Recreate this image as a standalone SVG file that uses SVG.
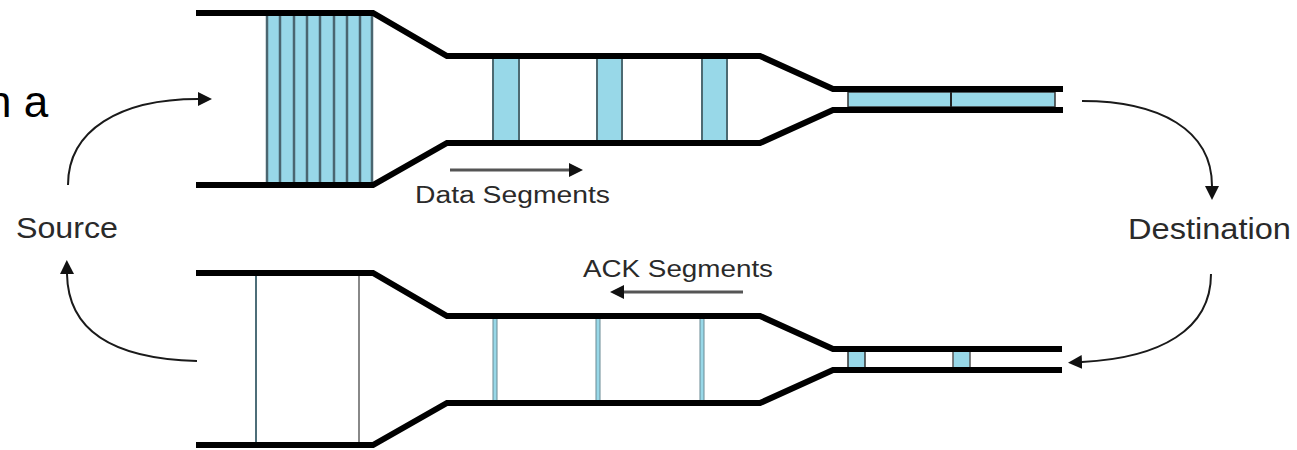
<svg xmlns="http://www.w3.org/2000/svg" width="1297" height="450" viewBox="0 0 1297 450">
<defs>
<style>
.pipe{fill:none;stroke:#000;stroke-width:6;stroke-linejoin:miter}
.seg{fill:#98d8e8;stroke:#4d6a72;stroke-width:2}
.div{stroke:#4a6670;stroke-width:2.5}
.lbl{font-family:"Liberation Sans",Arial,sans-serif;fill:#2a2a2a}
.curve{fill:none;stroke:#1a1a1a;stroke-width:2;marker-end:url(#ah)}
.flow{fill:none;stroke:#555;stroke-width:3;marker-end:url(#ah)}
</style>
<marker id="ah" markerUnits="userSpaceOnUse" markerWidth="16" markerHeight="16" viewBox="0 -8 16 16" refX="0" refY="0" orient="auto">
<path d="M0,-7 L14,0 L0,7 Z" fill="#111"/>
</marker>
</defs>
<rect width="1297" height="450" fill="#fff"/>
<text x="-13" y="117" font-family="Liberation Sans, Arial, sans-serif" font-size="44" fill="#000">n a</text>

<g id="data-pipe">
<rect x="267" y="16" width="105" height="166" fill="#98d8e8"/>
<g class="div">
<line x1="267" y1="15" x2="267" y2="183"/><line x1="280" y1="15" x2="280" y2="183"/>
<line x1="294" y1="15" x2="294" y2="183"/><line x1="307" y1="15" x2="307" y2="183"/>
<line x1="320" y1="15" x2="320" y2="183"/><line x1="334" y1="15" x2="334" y2="183"/>
<line x1="347" y1="15" x2="347" y2="183"/><line x1="360" y1="15" x2="360" y2="183"/>
<line x1="372" y1="15" x2="372" y2="183"/>
</g>
<rect class="seg" x="493" y="57" width="26" height="85"/>
<rect class="seg" x="597" y="57" width="25" height="85"/>
<rect class="seg" x="702" y="57" width="25" height="85"/>
<rect x="848" y="92" width="207" height="15" fill="#98d8e8" stroke="#333" stroke-width="1.5"/>
<line x1="951" y1="92" x2="951" y2="107" stroke="#222" stroke-width="2"/>
<path class="pipe" d="M196,13 H373 L447,56 H760 L833,89 H1063"/>
<path class="pipe" d="M196,185 H373 L447,143 H760 L833,110 H1063"/>
</g>

<g id="ack-pipe">
<line x1="256" y1="275" x2="256" y2="443" stroke="#4d6e78" stroke-width="2"/>
<line x1="359" y1="275" x2="359" y2="443" stroke="#888" stroke-width="2"/>
<rect x="493" y="318" width="4" height="83" fill="#98d8e8" stroke="#6a8a94" stroke-width="1"/>
<rect x="596" y="318" width="4" height="83" fill="#98d8e8" stroke="#6a8a94" stroke-width="1"/>
<rect x="700" y="318" width="4" height="83" fill="#98d8e8" stroke="#6a8a94" stroke-width="1"/>
<rect x="848" y="351" width="17" height="17" fill="#98d8e8" stroke="#333" stroke-width="1.5"/>
<rect x="953" y="351" width="17" height="17" fill="#98d8e8" stroke="#555" stroke-width="1.5"/>
<path class="pipe" d="M196,273 H373 L447,316 H760 L833,349 H1062"/>
<path class="pipe" d="M196,445 H373 L447,403 H760 L833,370 H1062"/>
</g>

<g id="source"><text class="lbl" x="16" y="238" font-size="29" textLength="102" lengthAdjust="spacingAndGlyphs">Source</text></g>
<g id="destination"><text class="lbl" x="1128" y="239" font-size="29" textLength="163" lengthAdjust="spacingAndGlyphs">Destination</text></g>
<g id="data-label"><text class="lbl" x="415" y="203" font-size="23" textLength="195" lengthAdjust="spacingAndGlyphs">Data Segments</text></g>
<g id="ack-label"><text class="lbl" x="583" y="277" font-size="24" textLength="190" lengthAdjust="spacingAndGlyphs">ACK Segments</text></g>

<g id="connectors">
<path class="curve" d="M68,185 C68,130 120,99 198,99"/>
<path class="curve" d="M197,361 C120,359 68,335 67,274"/>
<path class="curve" d="M1082,101 C1160,101 1212,130 1212,186"/>
<path class="curve" d="M1211,274 C1211,330 1160,358 1082,362"/>
<path class="flow" d="M450,170 H569"/>
<path class="flow" d="M743,292 H624"/>
</g>
</svg>
